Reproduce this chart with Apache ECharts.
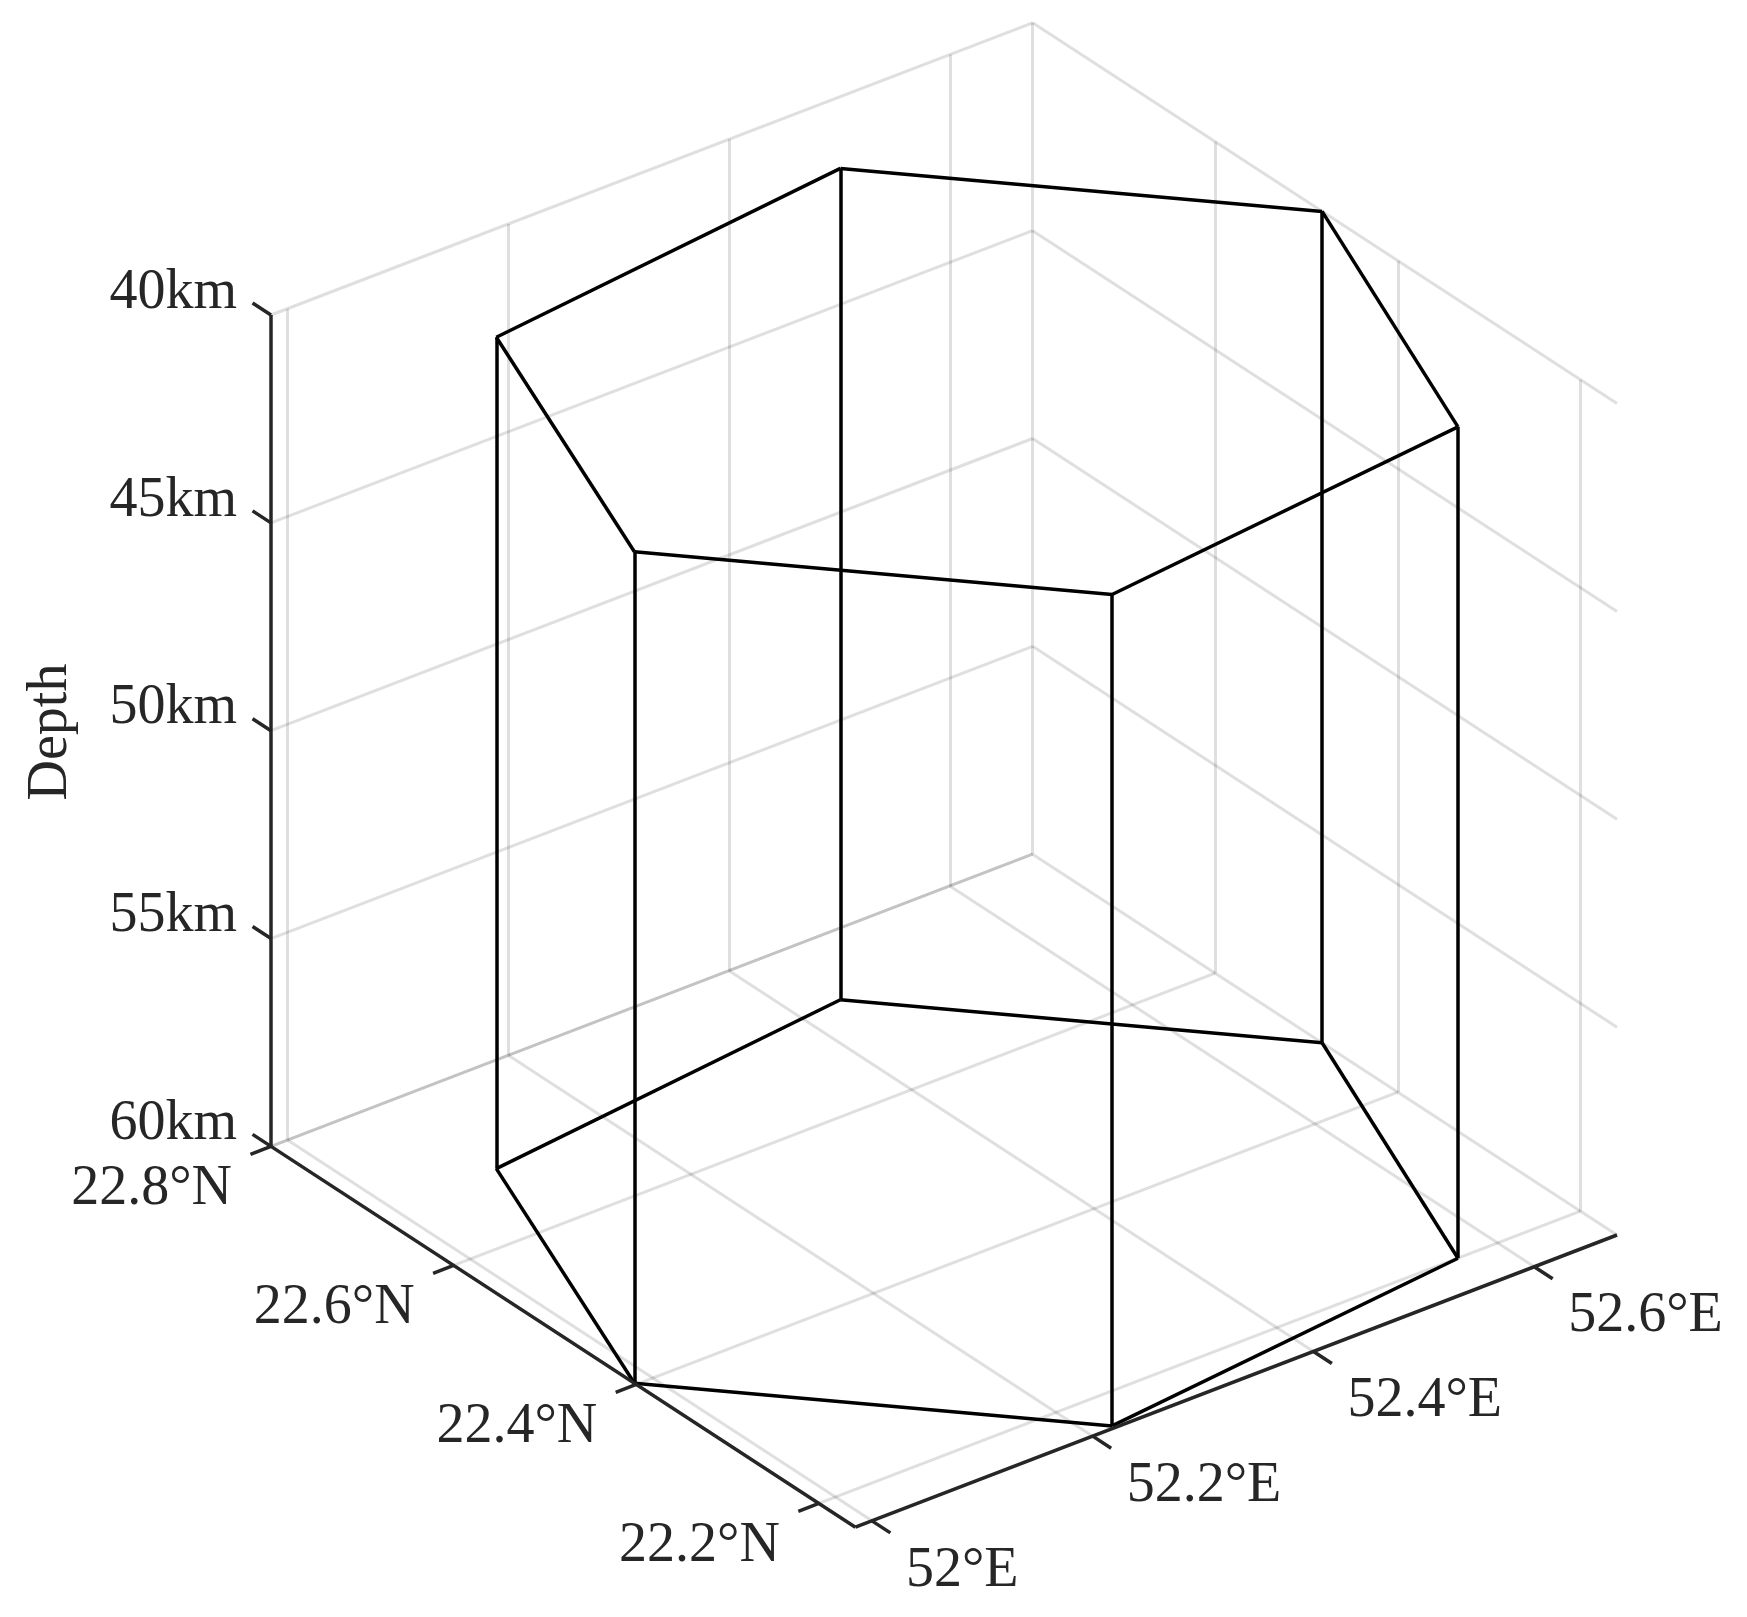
<!DOCTYPE html>
<html>
<head>
<meta charset="utf-8">
<script src="https://cdn.jsdelivr.net/npm/echarts@6/dist/echarts.min.js"></script>
<style>
  html, body { margin: 0; padding: 0; background: #fff; }
  #main { width: 1747px; height: 1617px; }
</style>
</head>
<body>
<div id="main"></div>
<script>
// hexagon prism, vertices (lon, lat), top 40km bottom 60km
var hexLon = [51.985, 52.220, 52.564, 52.675, 52.438, 52.094];
var hexLat = [22.402, 22.163, 22.200, 22.483, 22.724, 22.685];
var hexDepth = [40, 60];

// axis ticks and labels
var lonTicks = [52, 52.2, 52.4, 52.6];
var lonTickLabels = ['52°E', '52.2°E', '52.4°E', '52.6°E'];
var latTicks = [22.2, 22.4, 22.6, 22.8];
var latTickLabels = ['22.2°N', '22.4°N', '22.6°N', '22.8°N'];
var depthTicks = [40, 45, 50, 55, 60];
var depthTickLabels = ['40km', '45km', '50km', '55km', '60km'];

// axis limits (lon tight to data, lat up to 22.8)
var lonLim = [Math.min.apply(null, hexLon), Math.max.apply(null, hexLon)];
var latLim = [22.16, 22.8];
var depthLim = [40, 60];

// view, like matlab view(-37.5, 30)
var W = 1747, H = 1617;
var AZ = -37.5 * Math.PI / 180, EL = 30 * Math.PI / 180;
var BOX = 960, CX = 944, CY = 775;
var TICK_LEN = 22;
var FONT = '"Liberation Serif", "DejaVu Serif", serif';
var FONT_SIZE = 56;
var TXT = '#262626';

function project(lon, lat, depth) {
    var u = (lon - lonLim[0]) / (lonLim[1] - lonLim[0]) - 0.5;
    var v = (lat - latLim[0]) / (latLim[1] - latLim[0]) - 0.5;
    var w = (depthLim[1] - depth) / (depthLim[1] - depthLim[0]) - 0.5;
    var x = CX + BOX * (Math.cos(AZ) * u + Math.sin(AZ) * v);
    var y = CY - BOX * (-Math.sin(AZ) * Math.sin(EL) * u + Math.cos(AZ) * Math.sin(EL) * v + Math.cos(EL) * w);
    return [x, y];
}

// tick from p going towards q direction, fixed length on screen
function tick(p, q) {
    var dx = q[0] - p[0], dy = q[1] - p[1];
    var len = Math.sqrt(dx * dx + dy * dy);
    return [p, [p[0] + dx / len * TICK_LEN, p[1] + dy / len * TICK_LEN]];
}

var gridSegs = [];
// floor
lonTicks.forEach(function (lon) {
    gridSegs.push([project(lon, latLim[0], 60), project(lon, latLim[1], 60)]);
});
latTicks.forEach(function (lat) {
    gridSegs.push([project(lonLim[0], lat, 60), project(lonLim[1], lat, 60)]);
});
// back left wall (lat max)
lonTicks.forEach(function (lon) {
    gridSegs.push([project(lon, latLim[1], depthLim[0]), project(lon, latLim[1], depthLim[1])]);
});
depthTicks.forEach(function (d) {
    gridSegs.push([project(lonLim[0], latLim[1], d), project(lonLim[1], latLim[1], d)]);
});
// back right wall (lon max)
latTicks.forEach(function (lat) {
    gridSegs.push([project(lonLim[1], lat, depthLim[0]), project(lonLim[1], lat, depthLim[1])]);
});
depthTicks.forEach(function (d) {
    gridSegs.push([project(lonLim[1], latLim[0], d), project(lonLim[1], latLim[1], d)]);
});

// axis lines
var axisSegs = [
    [project(lonLim[0], latLim[1], depthLim[0]), project(lonLim[0], latLim[1], depthLim[1])],
    [project(lonLim[0], latLim[0], 60), project(lonLim[0], latLim[1], 60)],
    [project(lonLim[0], latLim[0], 60), project(lonLim[1], latLim[0], 60)]
];

var labelData = [];
depthTicks.forEach(function (d, i) {
    var p = project(lonLim[0], latLim[1], d);
    axisSegs.push(tick(p, project(lonLim[0], latLim[1] + 0.1, d)));
    labelData.push({name: depthTickLabels[i], value: p,
        label: {position: [-34, -22], align: 'right', verticalAlign: 'middle'}});
});
latTicks.forEach(function (lat, i) {
    var p = project(lonLim[0], lat, 60);
    axisSegs.push(tick(p, project(lonLim[0] - 0.1, lat, 60)));
    labelData.push({name: latTickLabels[i], value: p,
        label: {position: [-39, 43], align: 'right', verticalAlign: 'middle'}});
});
lonTicks.forEach(function (lon, i) {
    var p = project(lon, latLim[0], 60);
    axisSegs.push(tick(p, project(lon, latLim[0] - 0.1, 60)));
    labelData.push({name: lonTickLabels[i], value: p,
        label: {position: [34, 50], align: 'left', verticalAlign: 'middle'}});
});

// hexagon prism edges
var hexSegs = [];
for (var i = 0; i < hexLon.length; i++) {
    var j = (i + 1) % hexLon.length;
    hexSegs.push([project(hexLon[i], hexLat[i], hexDepth[0]), project(hexLon[j], hexLat[j], hexDepth[0])]);
    hexSegs.push([project(hexLon[i], hexLat[i], hexDepth[1]), project(hexLon[j], hexLat[j], hexDepth[1])]);
    hexSegs.push([project(hexLon[i], hexLat[i], hexDepth[0]), project(hexLon[i], hexLat[i], hexDepth[1])]);
}

function toLines(segs) {
    return segs.map(function (s) { return {coords: s}; });
}

var myChart = echarts.init(document.getElementById('main'));
var option = {
    backgroundColor: '#fff',
    animation: false,
    grid: {left: 0, right: 0, top: 0, bottom: 0},
    xAxis: {type: 'value', min: 0, max: W, show: false},
    yAxis: {type: 'value', min: 0, max: H, inverse: true, show: false},
    graphic: [{
        type: 'text',
        x: 51, y: 732,
        rotation: Math.PI / 2,
        style: {
            text: 'Depth', fill: TXT, font: FONT_SIZE + 'px ' + FONT,
            align: 'center', verticalAlign: 'middle'
        }
    }],
    series: [
        {
            type: 'lines', coordinateSystem: 'cartesian2d', silent: true, z: 1,
            lineStyle: {color: 'rgba(38,38,38,0.15)', width: 3, opacity: 1},
            data: toLines(gridSegs)
        },
        {
            type: 'lines', coordinateSystem: 'cartesian2d', silent: true, z: 2,
            lineStyle: {color: '#000', width: 3.5, opacity: 1},
            data: toLines(hexSegs)
        },
        {
            type: 'lines', coordinateSystem: 'cartesian2d', silent: true, z: 3,
            lineStyle: {color: TXT, width: 3.5, opacity: 1},
            data: toLines(axisSegs)
        },
        {
            type: 'scatter', silent: true, z: 4,
            symbolSize: 0,
            itemStyle: {opacity: 1},
            label: {
                show: true, formatter: '{b}', color: TXT, opacity: 1,
                fontFamily: FONT, fontSize: FONT_SIZE
            },
            data: labelData
        }
    ]
};
myChart.setOption(option);
window.addEventListener('resize', function () { myChart.resize(); });
</script>
</body>
</html>
